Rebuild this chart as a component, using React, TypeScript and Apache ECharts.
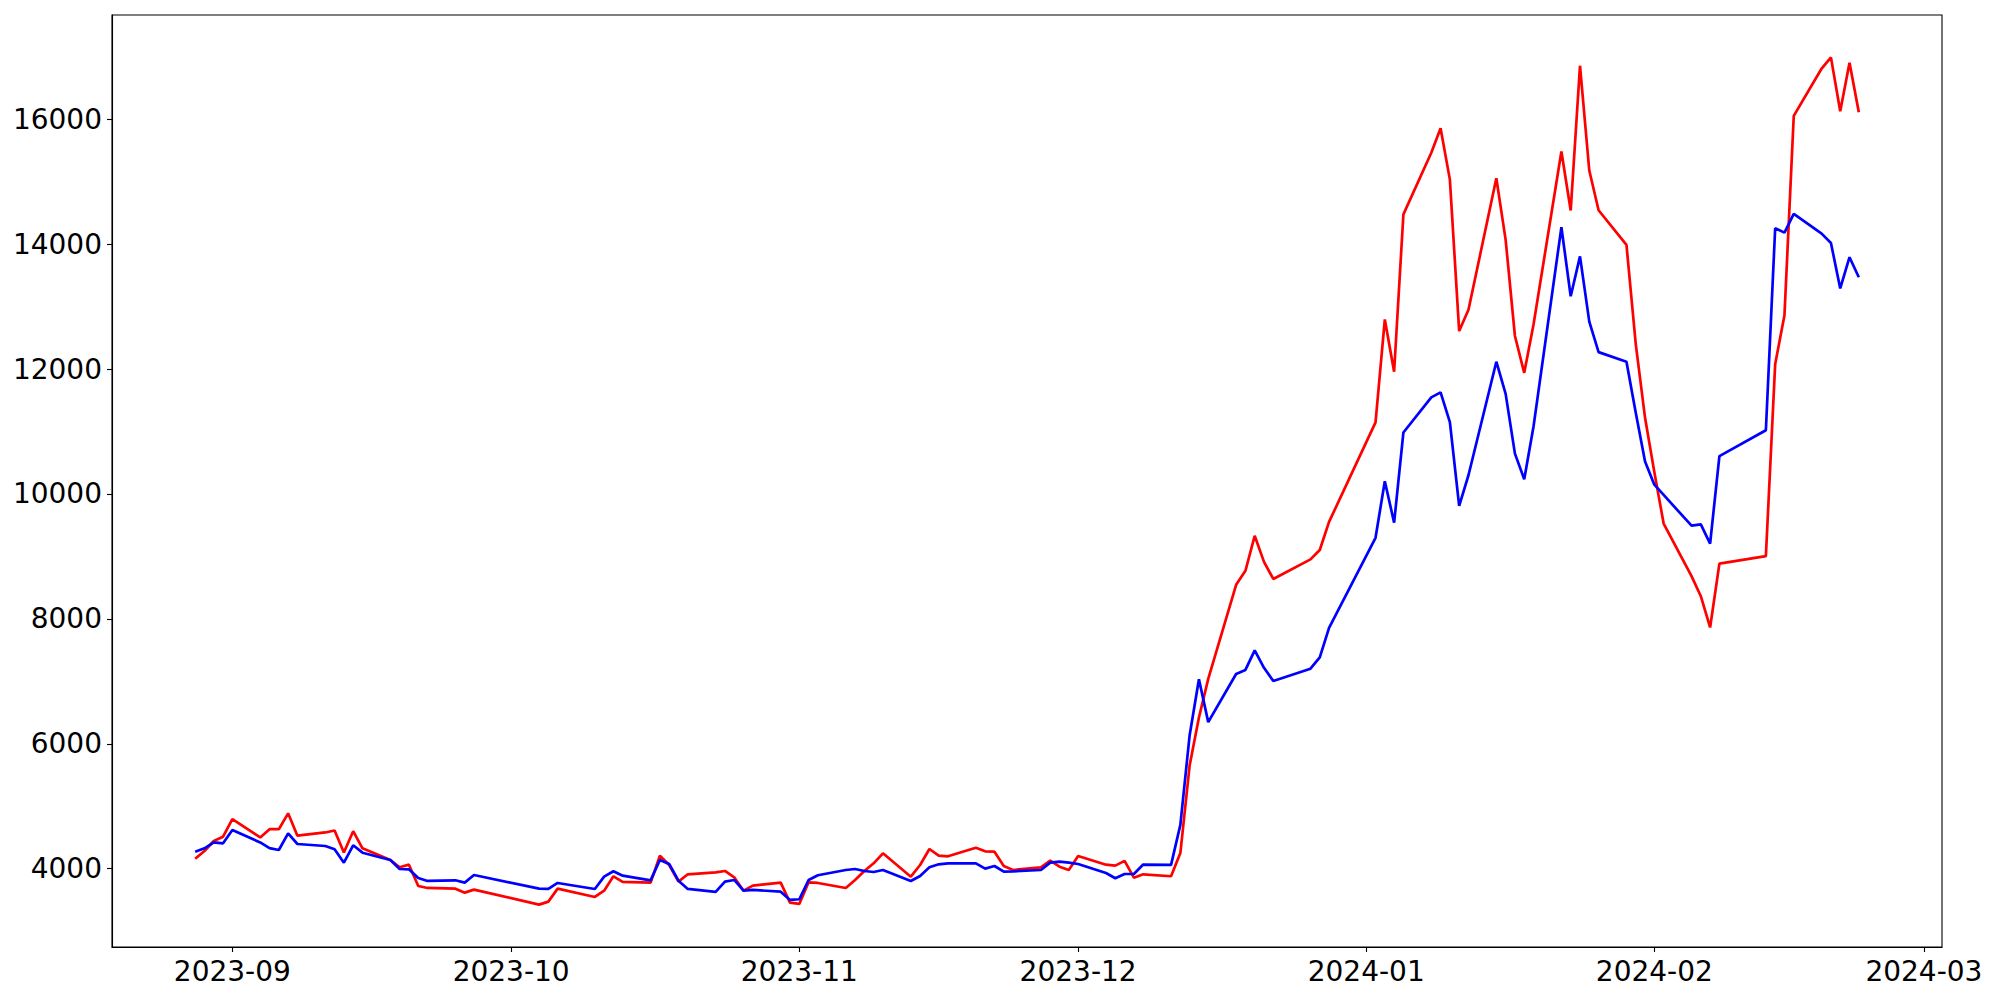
import React, { useEffect, useRef } from "react";
import * as echarts from "echarts";

// Trading days (KRX calendar)
const dates: string[] = [
  "2023-08-28", "2023-08-29", "2023-08-30", "2023-08-31",
  "2023-09-01", "2023-09-04", "2023-09-05", "2023-09-06", "2023-09-07", "2023-09-08",
  "2023-09-11", "2023-09-12", "2023-09-13", "2023-09-14", "2023-09-15",
  "2023-09-18", "2023-09-19", "2023-09-20", "2023-09-21", "2023-09-22",
  "2023-09-25", "2023-09-26", "2023-09-27",
  "2023-10-04", "2023-10-05", "2023-10-06",
  "2023-10-10", "2023-10-11", "2023-10-12", "2023-10-13",
  "2023-10-16", "2023-10-17", "2023-10-18", "2023-10-19", "2023-10-20",
  "2023-10-23", "2023-10-24", "2023-10-25", "2023-10-26", "2023-10-27",
  "2023-10-30", "2023-10-31",
  "2023-11-01", "2023-11-02", "2023-11-03",
  "2023-11-06", "2023-11-07", "2023-11-08", "2023-11-09", "2023-11-10",
  "2023-11-13", "2023-11-14", "2023-11-15", "2023-11-16", "2023-11-17",
  "2023-11-20", "2023-11-21", "2023-11-22", "2023-11-23", "2023-11-24",
  "2023-11-27", "2023-11-28", "2023-11-29", "2023-11-30",
  "2023-12-01", "2023-12-04", "2023-12-05", "2023-12-06", "2023-12-07", "2023-12-08",
  "2023-12-11", "2023-12-12", "2023-12-13", "2023-12-14", "2023-12-15",
  "2023-12-18", "2023-12-19", "2023-12-20", "2023-12-21", "2023-12-22",
  "2023-12-26", "2023-12-27", "2023-12-28",
  "2024-01-02", "2024-01-03", "2024-01-04", "2024-01-05",
  "2024-01-08", "2024-01-09", "2024-01-10", "2024-01-11", "2024-01-12",
  "2024-01-15", "2024-01-16", "2024-01-17", "2024-01-18", "2024-01-19",
  "2024-01-22", "2024-01-23", "2024-01-24", "2024-01-25", "2024-01-26",
  "2024-01-29", "2024-01-30", "2024-01-31",
  "2024-02-01", "2024-02-02",
  "2024-02-05", "2024-02-06", "2024-02-07", "2024-02-08",
  "2024-02-13", "2024-02-14", "2024-02-15", "2024-02-16",
  "2024-02-19", "2024-02-20", "2024-02-21", "2024-02-22", "2024-02-23",
];

const redValues: number[] = [
  4160, 4283, 4443, 4512,
  4795, 4500, 4632, 4632, 4886, 4528, 4580, 4612, 4260, 4600, 4326,
  4139, 4022, 4064, 3723, 3691, 3680, 3616, 3664,
  3424, 3472, 3680, 3547, 3648, 3878, 3787,
  3776, 4208, 4059, 3792, 3910, 3942, 3963, 3862, 3648, 3728, 3776, 3456,
  3435, 3782, 3771, 3691, 3819, 3963, 4086, 4246,
  3872, 4059, 4315, 4208, 4198, 4336, 4278, 4272, 4043, 3979,
  4022, 4128, 4032, 3979,
  4203, 4064, 4048, 4125, 3855, 3910, 3879, 4250, 5655, 6420, 7040,
  8545, 8770, 9331, 8913, 8639, 8953, 9103, 9553,
  11147, 12795, 11958, 14478, 15465, 15858, 15034, 12609, 12950,
  15055, 14070, 12530, 11940, 12715, 15484, 14541, 16858, 15180, 14544,
  13989, 12400, 11220,
  10350, 9527, 8684, 8363, 7863, 8885, 9006, 12077, 12863, 16056,
  16813, 16992, 16128, 16906, 16113,
];

const blueValues: number[] = [
  4272, 4326, 4422, 4406,
  4619, 4420, 4330, 4299, 4566, 4395, 4363, 4310, 4096, 4374, 4256,
  4139, 3995, 3990, 3851, 3803, 3814, 3776, 3899,
  3680, 3675, 3771, 3675, 3872, 3958, 3888,
  3812, 4139, 4075, 3808, 3675, 3627, 3792, 3819, 3648, 3659, 3632, 3499,
  3510, 3819, 3894, 3979, 3995, 3963, 3947, 3979,
  3803, 3883, 4022, 4070, 4086, 4086, 4000, 4043, 3952, 3958,
  3979, 4096, 4112, 4096,
  4075, 3930, 3846, 3915, 3915, 4066, 4061, 4701, 6138, 7033, 6347,
  7118, 7183, 7496, 7216, 7006, 7202, 7385, 7855,
  9299, 10205, 9540, 10985, 11548, 11627, 11150, 9810, 10300,
  12118, 11603, 10646, 10235, 11080, 14272, 13166, 13805, 12760, 12272,
  12118, 11300, 10520,
  10149, 9985, 9492, 9513, 9206, 10606, 11020, 14256, 14185, 14485,
  14170, 14020, 13292, 13792, 13470,
];

const yTickValues: number[] = [4000, 6000, 8000, 10000, 12000, 14000, 16000];
const xTickLabels: string[] = ["2023-09", "2023-10", "2023-11", "2023-12", "2024-01", "2024-02", "2024-03"];

function toTime(s: string): number {
  const p = s.split("-").map(Number);
  return new Date(p[0], p[1] - 1, p[2] || 1).getTime();
}

function fmtMonth(v: number): string {
  const d = new Date(v);
  const m = d.getMonth() + 1;
  return d.getFullYear() + "-" + (m < 10 ? "0" + m : "" + m);
}

export default function App() {
  const ref = useRef<HTMLDivElement>(null);
  useEffect(() => {
    document.body.style.margin = "0";
    const chart = echarts.init(ref.current as HTMLDivElement, null, { renderer: "svg" });
    const t = dates.map(toTime);
    const span = t[t.length - 1] - t[0];
    const xMin = t[0] - 0.05 * span;
    const xMax = t[t.length - 1] + 0.05 * span;
    const all = redValues.concat(blueValues);
    const lo = Math.min(...all);
    const hi = Math.max(...all);
    const yMin = lo - 0.05 * (hi - lo);
    const yMax = hi + 0.05 * (hi - lo);
    const xTicks = xTickLabels.map(toTime);
    const font = "DejaVu Sans";
    chart.setOption({
      animation: false,
      backgroundColor: "#ffffff",
      grid: {
        left: 112,
        right: 58,
        top: 15,
        bottom: 53,
        show: true,
        borderColor: "#000000",
        borderWidth: 1.1,
        backgroundColor: "transparent",
      },
      xAxis: {
        type: "value",
        min: xMin,
        max: xMax,
        axisLine: { show: true, lineStyle: { color: "#000000", width: 1.1 } },
        axisTick: { show: true, length: 5, lineStyle: { color: "#000000", width: 1.1 }, customValues: xTicks },
        axisLabel: {
          customValues: xTicks,
          formatter: (v: number) => fmtMonth(v),
          color: "#000000",
          fontSize: 28,
          fontFamily: font,
          margin: 10,
          hideOverlap: false,
        },
        splitLine: { show: false },
      },
      yAxis: {
        type: "value",
        min: yMin,
        max: yMax,
        axisLine: { show: true, lineStyle: { color: "#000000", width: 1.1 } },
        axisTick: { show: true, length: 5, lineStyle: { color: "#000000", width: 1.1 }, customValues: yTickValues },
        axisLabel: {
          customValues: yTickValues,
          formatter: (v: number) => String(v),
          color: "#000000",
          fontSize: 28,
          fontFamily: font,
          margin: 10,
        },
        splitLine: { show: false },
      },
      series: [
        {
          type: "line",
          name: "red",
          data: t.map((x, i) => [x, redValues[i]]),
          showSymbol: false,
          lineStyle: { color: "#ff0000", width: 2.7 },
          itemStyle: { color: "#ff0000" },
        },
        {
          type: "line",
          name: "blue",
          data: t.map((x, i) => [x, blueValues[i]]),
          showSymbol: false,
          lineStyle: { color: "#0000ff", width: 2.7 },
          itemStyle: { color: "#0000ff" },
        },
      ],
    });
    return () => chart.dispose();
  }, []);
  return <div ref={ref} style={{ width: 2000, height: 1000 }} />;
}
